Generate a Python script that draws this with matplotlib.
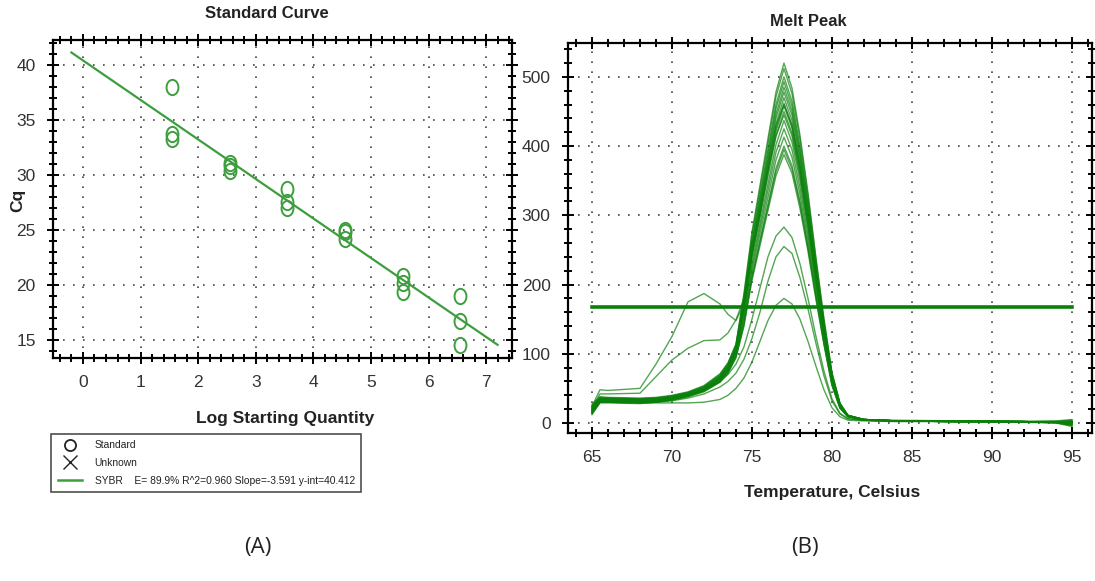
import matplotlib
matplotlib.use("Agg")
import matplotlib.pyplot as plt
from matplotlib.lines import Line2D
from matplotlib.path import Path
from matplotlib.transforms import Affine2D
from matplotlib.ticker import MultipleLocator

plt.rcParams['font.family'] = ['Liberation Sans Narrow', 'Liberation Sans', 'DejaVu Sans']

# ---- standard curve data ----
log_qty = [1.55, 1.55, 1.55, 2.55, 2.55, 2.55, 3.55, 3.55, 3.55,
           4.55, 4.55, 4.55, 5.55, 5.55, 5.55, 6.55, 6.55, 6.55]
cq = [38.0, 33.7, 33.3, 31.1, 30.8, 30.4, 28.7, 27.5, 27.0,
      25.0, 24.8, 24.2, 20.8, 20.2, 19.4, 19.0, 16.7, 14.5]
slope = -3.591
y_int = 40.412
fit_range = [-0.2, 7.2]

# ---- melt peak data (-d(RFU)/dT) ----
temp = [65, 65.5, 66, 68, 69, 70, 71, 72, 73, 73.5, 74, 74.5, 75, 75.5, 76, 76.5,
        77, 77.5, 78, 78.5, 79, 79.5, 80, 80.5, 81, 82, 84, 88, 92, 94, 95]

melt_main = [
    [16, 34, 35, 34, 35, 38, 43, 52, 68, 84, 112, 187, 276, 343, 411, 478, 520, 484, 416, 333, 239, 151, 73, 29, 11, 5, 3, 3, 2, 1, -2],
    [22, 36, 36, 35, 36, 39, 44, 53, 70, 86, 114, 184, 271, 338, 404, 471, 512, 476, 410, 328, 236, 148, 72, 28, 11, 5, 3, 3, 2, 2, 3],
    [18, 33, 34, 33, 34, 37, 42, 50, 66, 82, 110, 180, 265, 330, 395, 460, 500, 465, 400, 320, 230, 145, 70, 28, 11, 5, 3, 2, 2, 1, -4],
    [25, 38, 37, 36, 37, 40, 45, 54, 71, 87, 113, 177, 261, 325, 389, 454, 493, 458, 394, 316, 227, 143, 69, 27, 11, 5, 4, 3, 2, 2, 4],
    [14, 31, 32, 31, 32, 35, 41, 49, 65, 80, 108, 175, 257, 320, 383, 446, 485, 451, 388, 310, 223, 141, 68, 27, 11, 5, 3, 3, 2, 0, -3],
    [20, 35, 35, 34, 35, 38, 43, 51, 67, 83, 109, 172, 253, 315, 378, 440, 478, 445, 382, 306, 220, 139, 67, 26, 10, 5, 3, 2, 2, 2, 2],
    [27, 37, 36, 35, 36, 39, 44, 52, 68, 82, 106, 169, 249, 310, 371, 432, 470, 437, 376, 301, 216, 136, 66, 26, 10, 4, 3, 3, 2, 1, -1],
    [12, 30, 31, 30, 31, 34, 40, 48, 63, 78, 104, 166, 245, 305, 365, 425, 462, 430, 370, 296, 213, 134, 65, 25, 10, 5, 3, 2, 2, 3, 5],
    [19, 34, 33, 32, 33, 36, 41, 49, 64, 79, 105, 165, 243, 302, 362, 421, 458, 426, 366, 293, 211, 133, 64, 25, 10, 4, 3, 3, 2, 1, 0],
    [23, 36, 35, 34, 35, 37, 42, 50, 65, 80, 104, 162, 239, 297, 356, 414, 450, 419, 360, 288, 207, 131, 63, 25, 10, 5, 3, 2, 1, 0, -5],
    [17, 32, 31, 30, 31, 34, 39, 47, 61, 76, 101, 157, 232, 288, 345, 402, 437, 406, 350, 280, 201, 127, 61, 24, 10, 4, 3, 2, 2, 2, 1],
    [21, 33, 33, 32, 33, 35, 40, 47, 62, 76, 100, 153, 225, 281, 336, 391, 425, 395, 340, 272, 196, 123, 60, 23, 9, 5, 3, 3, 2, 1, 3],
    [15, 30, 30, 29, 30, 33, 38, 46, 60, 74, 98, 149, 219, 273, 326, 380, 413, 384, 330, 264, 190, 120, 58, 23, 9, 4, 3, 2, 2, 0, -2],
    [24, 35, 34, 33, 34, 36, 41, 48, 62, 75, 97, 144, 212, 264, 316, 368, 400, 372, 320, 256, 184, 116, 56, 22, 9, 5, 3, 2, 1, 1, 2],
    [13, 29, 29, 28, 30, 33, 38, 45, 59, 72, 95, 142, 209, 261, 312, 363, 395, 367, 316, 253, 182, 115, 55, 22, 9, 4, 3, 3, 2, 2, 0],
    [20, 32, 31, 30, 31, 34, 39, 46, 59, 72, 94, 140, 206, 256, 307, 357, 388, 361, 310, 248, 178, 113, 54, 21, 9, 5, 3, 2, 2, 1, -3],
]
melt_shoulder_a = [24, 48, 47, 50, 85, 125, 175, 187, 172, 157, 148, 172, 245, 300, 365, 415,
                   445, 415, 357, 285, 205, 130, 63, 25, 10, 5, 3, 3, 2, 1, 1]
melt_shoulder_b = [22, 42, 42, 43, 67, 91, 108, 119, 120, 130, 149, 180, 250, 310, 375, 430,
                   460, 430, 370, 295, 212, 134, 65, 26, 10, 5, 3, 2, 2, 1, -1]
melt_low_283 = [20, 32, 32, 31, 32, 35, 40, 48, 60, 70, 85, 110, 150, 195, 240, 270,
                283, 268, 230, 180, 125, 75, 35, 14, 6, 4, 3, 2, 2, 1, 0]
melt_low_255 = [18, 30, 30, 29, 30, 32, 36, 42, 52, 60, 72, 92, 122, 160, 205, 240,
                255, 245, 210, 165, 115, 68, 32, 13, 6, 4, 3, 2, 2, 1, 2]
melt_low_180 = [16, 30, 30, 29, 29, 29, 29, 30, 34, 40, 50, 65, 88, 118, 148, 170,
                180, 172, 150, 118, 82, 48, 22, 9, 4, 3, 2, 2, 1, 1, -1]
threshold = 168

green = '#3d9e3d'
dark_green = '#0a800a'
grid_style = dict(color='#444444', linestyle=(0, (1, 5)), linewidth=1.2)

# slightly tall open ellipse used for the standards
ellipse = Path.unit_circle().transformed(Affine2D().scale(0.78, 1.0))


def style_axes(ax, xmajor, xminor, ymajor, yminor):
    ax.xaxis.set_major_locator(MultipleLocator(xmajor))
    ax.xaxis.set_minor_locator(MultipleLocator(xminor))
    ax.yaxis.set_major_locator(MultipleLocator(ymajor))
    ax.yaxis.set_minor_locator(MultipleLocator(yminor))
    ax.tick_params(which='both', direction='inout', top=True, right=True,
                   colors='black', width=1.4, labelsize=12.5, labelcolor='#333333')
    ax.tick_params(which='major', length=9, pad=8)
    ax.tick_params(which='minor', length=6)
    for s in ax.spines.values():
        s.set_linewidth(1.6)
    ax.grid(True, which='major', **grid_style)
    ax.set_axisbelow(True)


fig = plt.figure(figsize=(10.95, 5.81), dpi=100)

# ---- (A) standard curve ----
ax1 = fig.add_axes([0.0484, 0.3838, 0.4192, 0.5474])
ax1.plot(fit_range, [y_int + slope * x for x in fit_range], color=green, lw=1.6)
ax1.plot(log_qty, cq, linestyle='none', marker=ellipse, ms=11, mfc='none',
         mec=green, mew=1.4)
ax1.set_xlim(-0.52, 7.45)
ax1.set_ylim(13.36, 42.27)
style_axes(ax1, 1, 0.2, 5, 1)

fig.text(267 / 1095, 1 - 14 / 581, 'Standard Curve', ha='center', va='center',
         fontsize=12, fontweight='bold', color='#222222')
fig.text(18 / 1095, 1 - 200 / 581, 'Cq', ha='center', va='center', rotation=90,
         fontsize=12.5, fontweight='bold', color='#222222')
fig.text(285 / 1095, 1 - 418 / 581, 'Log Starting Quantity', ha='center', va='center',
         fontsize=12.5, fontweight='bold', color='#222222')

handles = [
    Line2D([], [], linestyle='none', marker='o', ms=8, mfc='none', mec='#222222', mew=1.3),
    Line2D([], [], linestyle='none', marker='x', ms=10, mec='#222222', mew=1.0),
    Line2D([], [], color=green, lw=1.8),
]
labels = ['Standard', 'Unknown',
          'SYBR    E= 89.9% R^2=0.960 Slope=-3.591 y-int=40.412']
leg = fig.legend(handles, labels, loc='upper left', bbox_to_anchor=(0.047, 0.253),
                 frameon=True, fancybox=False, edgecolor='#222222', fontsize=7.4,
                 handlelength=2.4, handletextpad=1.2, labelspacing=0.75,
                 borderpad=0.6, borderaxespad=0)
leg.get_frame().set_linewidth(1.2)
for t in leg.get_texts():
    t.set_color('#222222')

fig.text(258 / 1095, 1 - 548 / 581, '(A)', ha='center', va='center',
         fontsize=16, family=['Open Sans', 'DejaVu Sans'], color='#222222')

# ---- (B) melt peak ----
ax2 = fig.add_axes([0.5187, 0.2547, 0.4785, 0.6713])
for curve in melt_main:
    ax2.plot(temp, curve, color=dark_green, lw=1.0, alpha=0.7)
for curve in [melt_shoulder_a, melt_shoulder_b, melt_low_283, melt_low_255, melt_low_180]:
    ax2.plot(temp, curve, color=dark_green, lw=1.0, alpha=0.7)
ax2.plot([temp[0], temp[-1]], [threshold, threshold], color=dark_green, lw=2.6)
ax2.set_xlim(63.5, 96.25)
ax2.set_ylim(-14.5, 549)
style_axes(ax2, 5, 1, 100, 20)

fig.text(808 / 1095, 1 - 22 / 581, 'Melt Peak', ha='center', va='center',
         fontsize=12, fontweight='bold', color='#222222')
fig.text(832 / 1095, 1 - 492 / 581, 'Temperature, Celsius', ha='center', va='center',
         fontsize=12.5, fontweight='bold', color='#222222')
fig.text(805 / 1095, 1 - 548 / 581, '(B)', ha='center', va='center',
         fontsize=16, family=['Open Sans', 'DejaVu Sans'], color='#222222')

fig.savefig('out.png', dpi=100)
